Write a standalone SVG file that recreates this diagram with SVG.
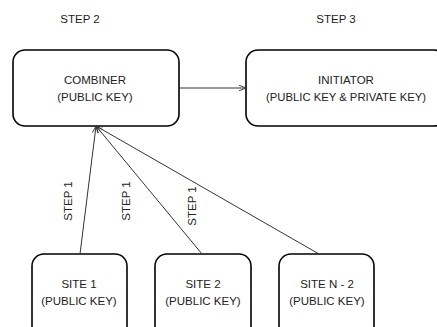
<svg xmlns="http://www.w3.org/2000/svg" width="437" height="327" viewBox="0 0 437 327">
<defs>
<marker id="arr" viewBox="0 0 10 10" refX="10" refY="5" markerWidth="7" markerHeight="7" orient="auto" markerUnits="userSpaceOnUse">
<path d="M0,1 L10,5 L0,9" fill="none" stroke="#333" stroke-width="1.3"/>
</marker>
<style>
.box{fill:#fff;stroke:#000;stroke-width:1.6}
.t{font-family:"Liberation Sans",Arial,sans-serif;font-size:11.5px;fill:#222;text-anchor:middle}
.c{stroke:#333;stroke-width:1;fill:none;marker-end:url(#arr)}
</style>
</defs>
<rect width="437" height="327" fill="#fff"/>
<text class="t" x="80" y="23">STEP 2</text>
<text class="t" x="336" y="23">STEP 3</text>
<g id="combiner">
<rect class="box" x="13" y="50" width="166" height="76" rx="12"/>
<text class="t" x="95" y="84">COMBINER</text>
<text class="t" x="95" y="101">(PUBLIC KEY)</text>
</g>
<g id="initiator">
<rect class="box" x="246" y="50" width="200" height="76" rx="12"/>
<text class="t" x="346" y="84">INITIATOR</text>
<text class="t" x="346" y="101" textLength="160" lengthAdjust="spacingAndGlyphs">(PUBLIC KEY &amp; PRIVATE KEY)</text>
</g>
<g id="site1">
<rect class="box" x="32" y="254" width="95" height="90" rx="12"/>
<text class="t" x="79" y="288">SITE 1</text>
<text class="t" x="79" y="305">(PUBLIC KEY)</text>
</g>
<g id="site2">
<rect class="box" x="155" y="254" width="96" height="90" rx="12"/>
<text class="t" x="203" y="288">SITE 2</text>
<text class="t" x="203" y="305">(PUBLIC KEY)</text>
</g>
<g id="siteN">
<rect class="box" x="279" y="254" width="95" height="90" rx="12"/>
<text class="t" x="327" y="288">SITE N - 2</text>
<text class="t" x="327" y="305">(PUBLIC KEY)</text>
</g>
<g id="connectors">
<line class="c" x1="179" y1="88" x2="246" y2="88"/>
<line class="c" x1="80" y1="254" x2="96" y2="126"/>
<line class="c" x1="202" y1="254" x2="96" y2="126"/>
<line class="c" x1="319" y1="254" x2="96" y2="126"/>
<text class="t" transform="translate(72,201) rotate(-90)">STEP 1</text>
<text class="t" transform="translate(130,201) rotate(-90)">STEP 1</text>
<text class="t" transform="translate(196,206) rotate(-90)">STEP 1</text>
</g>
</svg>
